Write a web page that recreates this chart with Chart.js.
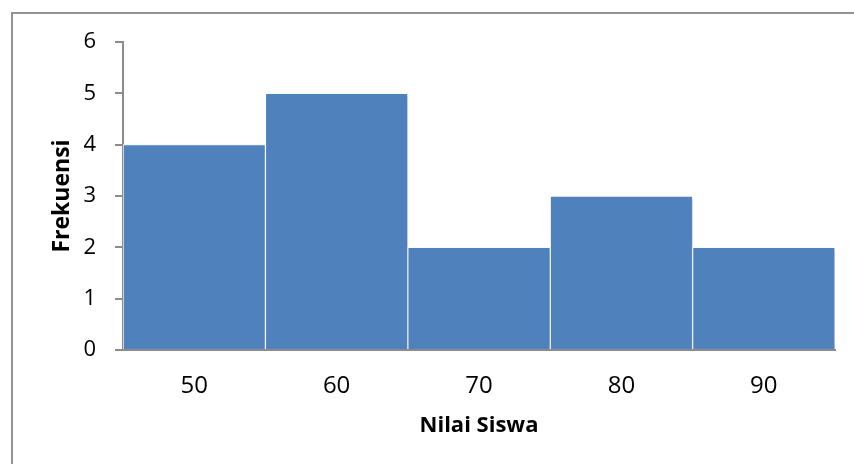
<!DOCTYPE html>
<html>
<head>
<meta charset="utf-8">
<script src="https://cdn.jsdelivr.net/npm/chart.js@4/dist/chart.umd.min.js"></script>
<style>
  html, body { margin: 0; padding: 0; background: #fff; }
  #wrap { position: relative; width: 854px; height: 464px; overflow: hidden; }
  #frame { position: absolute; left: 11px; top: 12px; width: 900px; height: 500px;
           border-top: 2px solid #939393; border-left: 2px solid #939393; box-sizing: border-box; }
  canvas { position: absolute; left: 0; top: 0; }
</style>
</head>
<body>
<div id="wrap">
  <div id="frame"></div>
  <canvas id="c" width="854" height="464"></canvas>
</div>
<script>
// Frequency of student scores
const categories = ['50', '60', '70', '80', '90'];
const frekuensi = [4, 5, 2, 3, 2];
const yTicks = [0, 1, 2, 3, 4, 5, 6];

const FONT = "'Open Sans', 'DejaVu Sans', sans-serif";
const AXIS_GRAY = '#8c8c8c';

// soft drop shadow behind the bars
const barShadow = {
  id: 'barShadow',
  beforeDatasetsDraw(chart) {
    const ctx = chart.ctx;
    ctx.save();
    ctx.shadowColor = 'rgba(0,0,0,0.22)';
    ctx.shadowBlur = 3;
    ctx.shadowOffsetX = 2;
    ctx.shadowOffsetY = 1;
  },
  afterDatasetsDraw(chart) {
    chart.ctx.restore();
  }
};

new Chart(document.getElementById('c'), {
  type: 'bar',
  data: {
    labels: categories,
    datasets: [{
      data: frekuensi,
      backgroundColor: '#4f81bd',
      borderColor: '#ffffff',
      borderWidth: 1,
      barPercentage: 1,
      categoryPercentage: 1
    }]
  },
  plugins: [barShadow],
  options: {
    responsive: false,
    animation: false,
    layout: { padding: { left: 0, right: 19, top: 42, bottom: 0 } },
    plugins: { legend: { display: false }, tooltip: { enabled: false } },
    scales: {
      x: {
        grid: { display: true, drawOnChartArea: false, drawTicks: false, color: 'rgba(0,0,0,0)' },
        border: { display: true, color: AXIS_GRAY, width: 2 },
        ticks: { color: '#000', padding: 22, font: { family: FONT, size: 24 } },
        title: {
          display: true, text: 'Nilai Siswa', color: '#000',
          font: { family: FONT, size: 22, weight: 'bold' },
          padding: { top: 0, bottom: 25 }
        },
        afterFit(scale) { scale.height = 114; }
      },
      y: {
        min: 0, max: 6,
        afterBuildTicks(scale) { scale.ticks = yTicks.map(v => ({ value: v })); },
        grid: { display: true, drawOnChartArea: false, drawTicks: true, tickLength: 8, color: AXIS_GRAY, lineWidth: 2 },
        border: { display: true, color: AXIS_GRAY, width: 2 },
        ticks: { color: '#000', padding: 19, font: { family: FONT, size: 22 } },
        title: {
          display: true, text: 'Frekuensi', color: '#000',
          font: { family: FONT, size: 23, weight: 'bold' },
          padding: { top: 49, bottom: 0 }
        },
        afterFit(scale) { scale.width = 123; }
      }
    }
  }
});
</script>
</body>
</html>
